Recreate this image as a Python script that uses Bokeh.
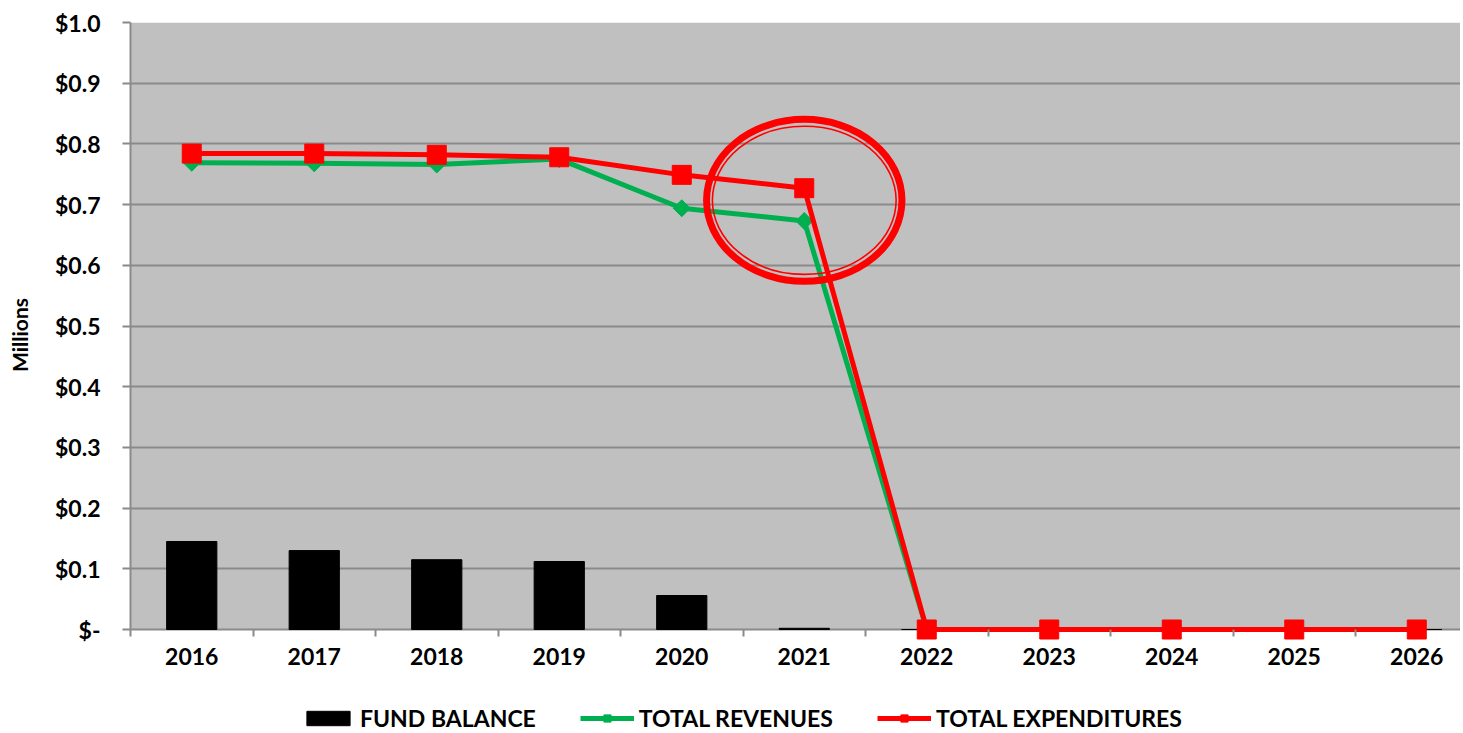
from bokeh.plotting import figure
from bokeh.models import FixedTicker, CustomJSTickFormatter, Legend, LegendItem, Range1d, BoxAnnotation, Span
from bokeh.layouts import column
from bokeh.embed import file_html
from bokeh.resources import INLINE
import numpy as np

years = [2016, 2017, 2018, 2019, 2020, 2021, 2022, 2023, 2024, 2025, 2026]
year_labels = ["2016", "2017", "2018", "2019", "2020", "2021", "2022", "2023", "2024", "2025", "2026"]
fund_balance = [0.145, 0.130, 0.115, 0.112, 0.056, 0.002, 0, 0, 0, 0, 0]
total_revenues = [0.769, 0.768, 0.766, 0.775, 0.694, 0.673, 0, 0, 0, 0, 0]
total_expenditures = [0.784, 0.784, 0.782, 0.778, 0.749, 0.727, 0, 0, 0, 0, 0]
y_ticks = [0.0, 0.1, 0.2, 0.3, 0.4, 0.5, 0.6, 0.7, 0.8, 0.9, 1.0]
series_names = ["FUND BALANCE", "TOTAL REVENUES", "TOTAL EXPENDITURES"]
highlight_year = 2021
highlight_value = 0.707

FONT = "Lato"
GREEN = "#00B050"
RED = "#FF0000"
GRID = "#8A8A8A"
PLOT_BG = "#C0C0C0"


def draw_series(fig):
    b = fig.vbar(x=years, top=fund_balance, width=0.41, fill_color="black", line_color="black")
    rl = fig.line(years, total_revenues, line_color=GREEN, line_width=5)
    rp = fig.scatter(years, total_revenues, marker="square", angle=np.pi / 4, size=12,
                     fill_color=GREEN, line_color=GREEN)
    el = fig.line(years, total_expenditures, line_color=RED, line_width=5)
    ep = fig.scatter(years, total_expenditures, marker="square", size=19,
                     fill_color=RED, line_color=RED)
    return b, rl, rp, el, ep


# the frame reaches a little below zero so markers sitting on the zero line are not cut;
# the area below zero is left white, as outside the plot area
Y_MIN = -18 / 607
p = figure(width=1460, height=700, output_backend="svg", toolbar_location=None,
           x_range=Range1d(years[0] - 0.5, years[-1] + 0.357), y_range=Range1d(Y_MIN, 1.0),
           min_border_left=130, min_border_right=0, min_border_top=22, min_border_bottom=53)
p.background_fill_color = "white"
p.border_fill_color = "white"
p.outline_line_color = None

p.add_layout(BoxAnnotation(bottom=0, fill_color=PLOT_BG, fill_alpha=1, line_color=None, level="image"))
p.add_layout(Span(location=0, dimension="width", line_color=GRID, line_width=2, level="underlay"))

draw_series(p)

p.ellipse(x=highlight_year, y=highlight_value, width=1.595, height=0.267,
          fill_color=None, line_color=RED, line_width=7)
p.ellipse(x=highlight_year, y=highlight_value, width=1.50, height=0.244,
          fill_color=None, line_color=RED, line_width=1.6)

# axes
p.xgrid.visible = False
p.ygrid.grid_line_color = GRID
p.ygrid.grid_line_width = 2
p.ygrid.ticker = FixedTicker(ticks=y_ticks[1:])

p.yaxis.ticker = FixedTicker(ticks=y_ticks)
p.yaxis.bounds = (0, 1.0)
p.yaxis.formatter = CustomJSTickFormatter(code='return tick < 0.05 ? "$-" : "$" + tick.toFixed(1);')
p.yaxis.axis_line_color = GRID
p.yaxis.axis_line_width = 2
p.yaxis.major_tick_line_color = GRID
p.yaxis.major_tick_line_width = 2
p.yaxis.major_tick_out = 8
p.yaxis.major_tick_in = 0
p.yaxis.minor_tick_line_color = None
p.yaxis.major_label_standoff = 22
p.yaxis.major_label_text_font = FONT
p.yaxis.major_label_text_font_style = "bold"
p.yaxis.major_label_text_font_size = "23px"
p.yaxis.major_label_text_color = "black"
p.yaxis.axis_label = "Millions"
p.yaxis.axis_label_text_font = FONT
p.yaxis.axis_label_text_font_style = "bold"
p.yaxis.axis_label_text_font_size = "21px"
p.yaxis.axis_label_text_color = "black"
p.yaxis.axis_label_standoff = 20

p.xaxis.ticker = FixedTicker(ticks=years, minor_ticks=[y + 0.5 for y in [years[0] - 1] + years])
p.xaxis.major_label_overrides = {y: s for y, s in zip(years, year_labels)}
p.xaxis.axis_line_color = None
p.xaxis.major_tick_line_color = None
p.xaxis.major_tick_out = 0
p.xaxis.major_tick_in = 0
p.xaxis.minor_tick_line_color = GRID
p.xaxis.minor_tick_line_width = 2
p.xaxis.minor_tick_in = 18
p.xaxis.minor_tick_out = -11
p.xaxis.major_label_standoff = 0
p.xaxis.major_label_text_font = FONT
p.xaxis.major_label_text_font_style = "bold"
p.xaxis.major_label_text_font_size = "23px"
p.xaxis.major_label_text_color = "black"

# legend strip below the chart: same series drawn outside its visible range, legend only
lg = figure(width=1460, height=33, output_backend="svg", toolbar_location=None,
            x_range=Range1d(0, 1), y_range=Range1d(0, 1),
            x_axis_location=None, y_axis_location=None,
            min_border_left=0, min_border_right=0, min_border_top=0, min_border_bottom=0)
lg.outline_line_color = None
lg.grid.visible = False
lg.background_fill_color = "white"
lg_bar, lg_rev_line, lg_rev_pts, lg_exp_line, lg_exp_pts = draw_series(lg)

legend = Legend(items=[
    LegendItem(label=series_names[0], renderers=[lg_bar]),
    LegendItem(label=series_names[1], renderers=[lg_rev_line, lg_rev_pts]),
    LegendItem(label=series_names[2], renderers=[lg_exp_line, lg_exp_pts]),
], orientation="horizontal", location=(171, 1))
legend.label_text_font = FONT
legend.label_text_font_style = "bold"
legend.label_text_font_size = "23px"
legend.label_text_color = "black"
legend.glyph_width = 54
legend.glyph_height = 18
legend.label_height = 20
legend.label_standoff = 5
legend.spacing = 44
legend.padding = 2
legend.margin = 0
legend.border_line_color = None
legend.background_fill_alpha = 0
lg.add_layout(legend, "center")

open("out.html", "w").write(file_html(column(p, lg), INLINE))
